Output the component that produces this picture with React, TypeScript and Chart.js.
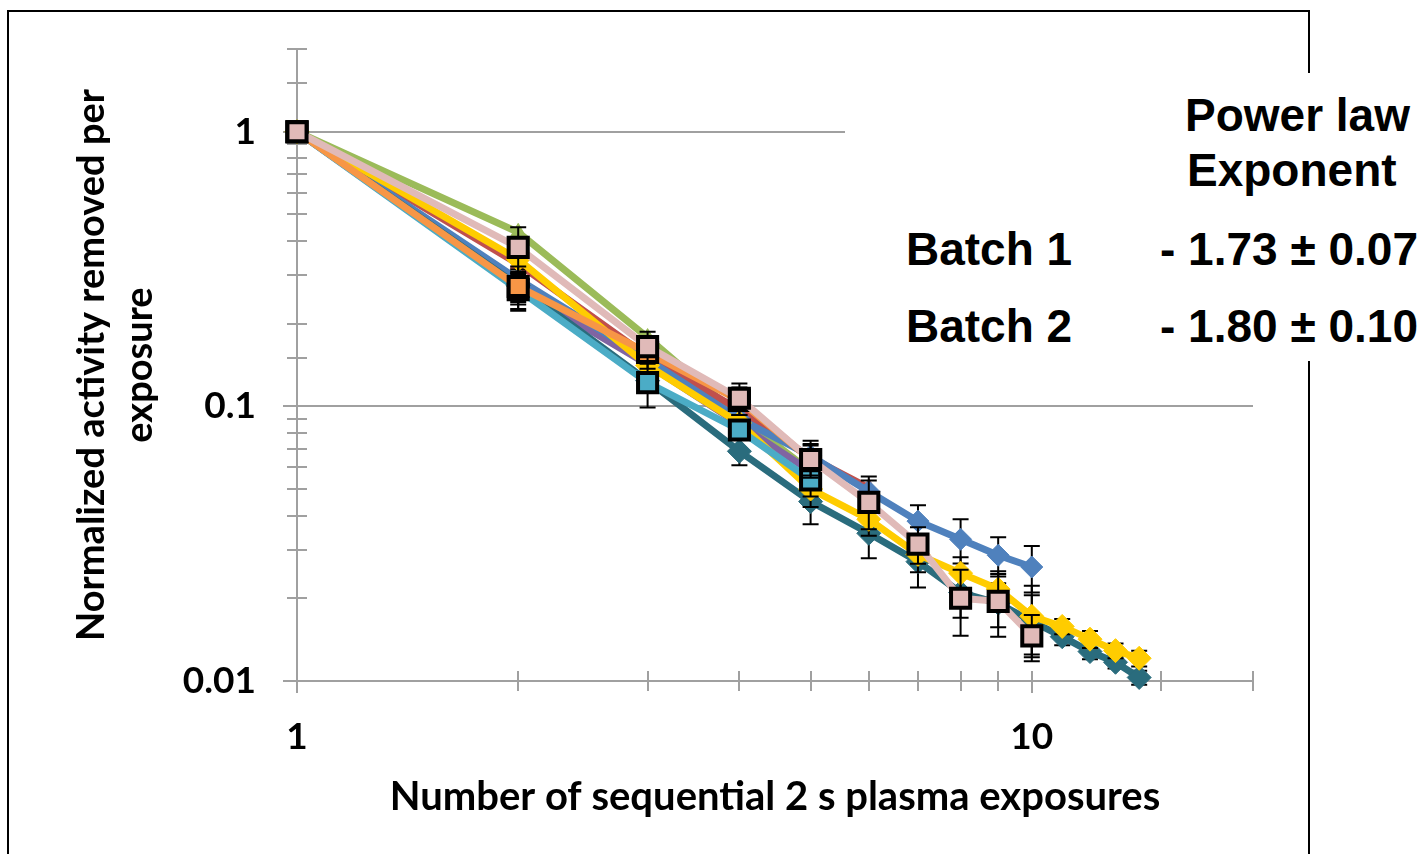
import React, { useEffect, useRef } from 'react';
import { Chart, registerables } from 'chart.js';

Chart.register(...registerables);

// ---------- data ----------
const X_VALUES = [1, 2, 3, 4, 5, 6, 7, 8, 9, 10, 11, 12, 13, 14];

const PINK = [1, 0.379, 0.165, 0.107, 0.064, 0.0447, 0.0315, 0.02, 0.0195, 0.0146];
const PINK_ERR = [0, 0.07, 0.022, 0.014, 0.009, 0.009, 0.0048, 0.0054, 0.005, 0.0028];
const ORANGE = [1, 0.273, 0.157, 0.105, 0.064];
const ORANGE_ERR = [0, 0.05, 0.02, 0.012, 0.008];
const CYAN = [1, 0.266, 0.122, 0.082, 0.054];
const CYAN_ERR = [0, 0.04, 0.023, 0.006, 0.007];
const YELLOW = [1, 0.343, 0.141, 0.087, 0.05, 0.0388, 0.0289, 0.0247, 0.0216, 0.0172, 0.0158, 0.0142, 0.0129, 0.0121];
const YELLOW_ERR = [0, 0.04, 0.02, 0.01, 0.007, 0.005, 0.004, 0.0035, 0.0035, 0.005, 0.001, 0.001, 0.0008, 0.0008];
const TEAL = [1, 0.275, 0.124, 0.0686, 0.045, 0.0345, 0.0272, 0.021, 0.0192, 0.0165, 0.0145, 0.0128, 0.0117, 0.0103];
const TEAL_ERR = [0, 0.04, 0.012, 0.0076, 0.0078, 0.0065, 0.0053, 0.004, 0.0035, 0.004, 0.001, 0.0008, 0.0006, 0.0006];
const BLUE = [1, 0.29, 0.148, 0.09, 0.066, 0.049, 0.0382, 0.0328, 0.0287, 0.026];
const BLUE_ERR = [0, 0.05, 0.02, 0.012, 0.009, 0.0065, 0.0054, 0.006, 0.0047, 0.005];
const DARK_RED = [1, 0.33, 0.152, 0.097, 0.065, 0.0505];
const PURPLE = [1, 0.27, 0.142, 0.086, 0.058];
const GREEN = [1, 0.43, 0.178, 0.092, 0.058];

const X_TICK_VALUES = [1, 10];
const X_TICK_LABELS = ['1', '10'];
const Y_TICK_VALUES = [0.01, 0.1, 1];
const Y_TICK_LABELS = ['0.01', '0.1', '1'];
const Y_GRID_VALUES = [0.1, 1];

const X_TITLE = 'Number of sequential 2 s plasma exposures';
const Y_TITLE = ['Normalized activity removed per', 'exposure'];

const BOX_HEADER = ['Power law', 'Exponent'];
const BOX_ROWS = [
  ['Batch 1', '- 1.73 \u00B1 0.07'],
  ['Batch 2', '- 1.80 \u00B1 0.10'],
];

const GRID = '#a0a0a0';

const ERRORS: Record<string, number[]> = {
  pink: PINK_ERR,
  cyan: CYAN_ERR,
  orange: ORANGE_ERR,
  yellow: YELLOW_ERR,
  teal: TEAL_ERR,
  blue: BLUE_ERR,
};

function labelFor(v: number, values: number[], labels: string[]) {
  for (let i = 0; i < values.length; i++) {
    if (Math.abs(v - values[i]) < values[i] * 1e-6) return labels[i];
  }
  return '';
}

function isMajor(v: number, values: number[]) {
  return values.some((m) => Math.abs(v - m) < m * 1e-6);
}

const axisPlugin = {
  id: 'customAxes',
  beforeDatasetsDraw(chart: any) {
    const { ctx, chartArea, scales } = chart;
    const xs = scales.x;
    const ys = scales.y;
    const ax = Math.round(xs.getPixelForValue(1));
    const by = Math.round(ys.getPixelForValue(0.01));
    ctx.save();
    ctx.strokeStyle = GRID;
    ctx.lineWidth = 2;
    const line = (x1: number, y1: number, x2: number, y2: number) => {
      ctx.beginPath();
      ctx.moveTo(x1, y1);
      ctx.lineTo(x2, y2);
      ctx.stroke();
    };
    Y_GRID_VALUES.forEach((v) => {
      const py = Math.round(ys.getPixelForValue(v));
      line(ax - 14, py, chartArea.right, py);
    });
    line(ax, chartArea.top, ax, by + 12);
    line(ax - 14, by, chartArea.right, by);
    ys.ticks.forEach((t: any) => {
      const py = Math.round(ys.getPixelForValue(t.value));
      const major = isMajor(t.value, Y_TICK_VALUES);
      line(ax - (major ? 14 : 10), py, ax + 10, py);
    });
    xs.ticks.forEach((t: any) => {
      const px = Math.round(xs.getPixelForValue(t.value));
      const major = isMajor(t.value, X_TICK_VALUES);
      line(px, by - 10, px, by + (major ? 12 : 10));
    });
    ctx.restore();
  },
};

const errorBarPlugin = {
  id: 'errorBars',
  beforeDatasetDraw(chart: any, args: any) {
    const ds = chart.data.datasets[args.index];
    const errs = ERRORS[ds.label];
    if (!errs) return;
    const { ctx } = chart;
    const ys = chart.scales.y;
    ctx.save();
    ctx.strokeStyle = '#000';
    ctx.lineWidth = 2;
    args.meta.data.forEach((pt: any, i: number) => {
      const e = errs[i];
      if (!e) return;
      const v = ds.data[i].y;
      const top = ys.getPixelForValue(v + e);
      const bot = ys.getPixelForValue(v - e);
      ctx.beginPath();
      ctx.moveTo(pt.x, top);
      ctx.lineTo(pt.x, bot);
      ctx.moveTo(pt.x - 8, top);
      ctx.lineTo(pt.x + 8, top);
      ctx.moveTo(pt.x - 8, bot);
      ctx.lineTo(pt.x + 8, bot);
      ctx.stroke();
    });
    ctx.restore();
  },
};

function makeSet(label: string, values: number[], color: string, style: string, radius: number, boxed: boolean) {
  return {
    label,
    data: values.map((v, i) => ({ x: X_VALUES[i], y: v })),
    borderColor: color,
    backgroundColor: color,
    borderWidth: 7,
    pointStyle: style,
    pointRadius: radius,
    pointHoverRadius: radius,
    pointBackgroundColor: color,
    pointBorderColor: boxed ? '#000' : color,
    pointBorderWidth: boxed ? 4 : 1,
    tension: 0,
    clip: false,
  };
}

function zeroPadding(s: any) {
  s.paddingTop = 0;
  s.paddingBottom = 0;
  s.paddingLeft = 0;
  s.paddingRight = 0;
}

export default function App() {
  const ref = useRef<HTMLCanvasElement>(null);

  useEffect(() => {
    const canvas = ref.current;
    if (!canvas) return;
    Chart.defaults.font.family = 'Lato, "Open Sans", sans-serif';
    const tickFont = { size: 37, weight: 'bold' as const };
    const chart = new Chart(canvas, {
      type: 'line',
      data: {
        datasets: [
          makeSet('pink', PINK, '#e0bab8', 'rect', 13.5, true),
          makeSet('orange', ORANGE, '#f79646', 'rect', 13.5, true),
          makeSet('cyan', CYAN, '#4bacc6', 'rect', 13.5, true),
          makeSet('yellow', YELLOW, '#ffcc00', 'rectRot', 12, false),
          makeSet('teal', TEAL, '#2a6c7d', 'rectRot', 12, false),
          makeSet('blue', BLUE, '#4f81bd', 'rectRot', 11, false),
          makeSet('darkred', DARK_RED, '#c0504d', 'triangle', 9, false),
          makeSet('purple', PURPLE, '#8064a2', 'triangle', 8, false),
          makeSet('green', GREEN, '#9bbb59', 'triangle', 9, false),
        ] as any,
      },
      options: {
        responsive: false,
        animation: false,
        devicePixelRatio: 1,
        events: [],
        layout: { padding: { top: 49, right: 175, left: 0, bottom: 0 } },
        plugins: { legend: { display: false }, tooltip: { enabled: false } },
        scales: {
          x: {
            type: 'logarithmic',
            min: 1,
            max: 20,
            grid: { display: false, drawTicks: false, tickLength: 0 },
            border: { display: false },
            ticks: {
              autoSkip: false,
              maxRotation: 0,
              padding: 34,
              color: '#000',
              font: tickFont,
              callback: (v: any) => labelFor(Number(v), X_TICK_VALUES, X_TICK_LABELS),
            },
            title: {
              display: true,
              text: X_TITLE,
              color: '#000',
              font: { size: 40, weight: 'bold', lineHeight: 1.2 },
              padding: { top: 0, bottom: 33 },
            },
            afterFit: (s: any) => {
              s.height = 173;
              zeroPadding(s);
            },
          },
          y: {
            type: 'logarithmic',
            min: 0.01,
            max: 2,
            grid: { display: false, drawTicks: false, tickLength: 0 },
            border: { display: false },
            ticks: {
              autoSkip: false,
              padding: 41,
              color: '#000',
              font: tickFont,
              callback: (v: any) => labelFor(Number(v), Y_TICK_VALUES, Y_TICK_LABELS),
            },
            title: {
              display: true,
              text: Y_TITLE,
              color: '#000',
              font: { size: 38, weight: 'bold', lineHeight: 48 / 38 },
              padding: { top: 68, bottom: 0 },
            },
            afterFit: (s: any) => {
              s.width = 297;
              zeroPadding(s);
            },
          },
        },
      } as any,
      plugins: [axisPlugin, errorBarPlugin],
    });
    return () => chart.destroy();
  }, []);

  const boxText: React.CSSProperties = {
    position: 'absolute',
    fontFamily: '"Liberation Sans", Arial, sans-serif',
    fontWeight: 700,
    fontSize: 46,
    lineHeight: '46px',
    whiteSpace: 'nowrap',
    color: '#000',
  };

  return (
    <div
      style={{
        position: 'fixed',
        left: 0,
        top: 0,
        width: 1428,
        height: 854,
        overflow: 'hidden',
        background: '#fff',
      }}
    >
      <div
        style={{
          position: 'absolute',
          left: 7,
          top: 10,
          width: 1303,
          height: 900,
          border: '2px solid #000',
          boxSizing: 'border-box',
        }}
      />
      <canvas
        ref={ref}
        width={1428}
        height={854}
        style={{ position: 'absolute', left: 0, top: 0, width: 1428, height: 854 }}
      />
      <div
        style={{
          position: 'absolute',
          left: 845,
          top: 73,
          width: 600,
          height: 288,
          background: '#fff',
        }}
      />
      <div style={{ ...boxText, left: 1185, top: 92 }}>{BOX_HEADER[0]}</div>
      <div style={{ ...boxText, left: 1187, top: 147 }}>{BOX_HEADER[1]}</div>
      <div style={{ ...boxText, left: 906, top: 226 }}>{BOX_ROWS[0][0]}</div>
      <div style={{ ...boxText, left: 1160, top: 226 }}>{BOX_ROWS[0][1]}</div>
      <div style={{ ...boxText, left: 906, top: 303 }}>{BOX_ROWS[1][0]}</div>
      <div style={{ ...boxText, left: 1160, top: 303 }}>{BOX_ROWS[1][1]}</div>
    </div>
  );
}
